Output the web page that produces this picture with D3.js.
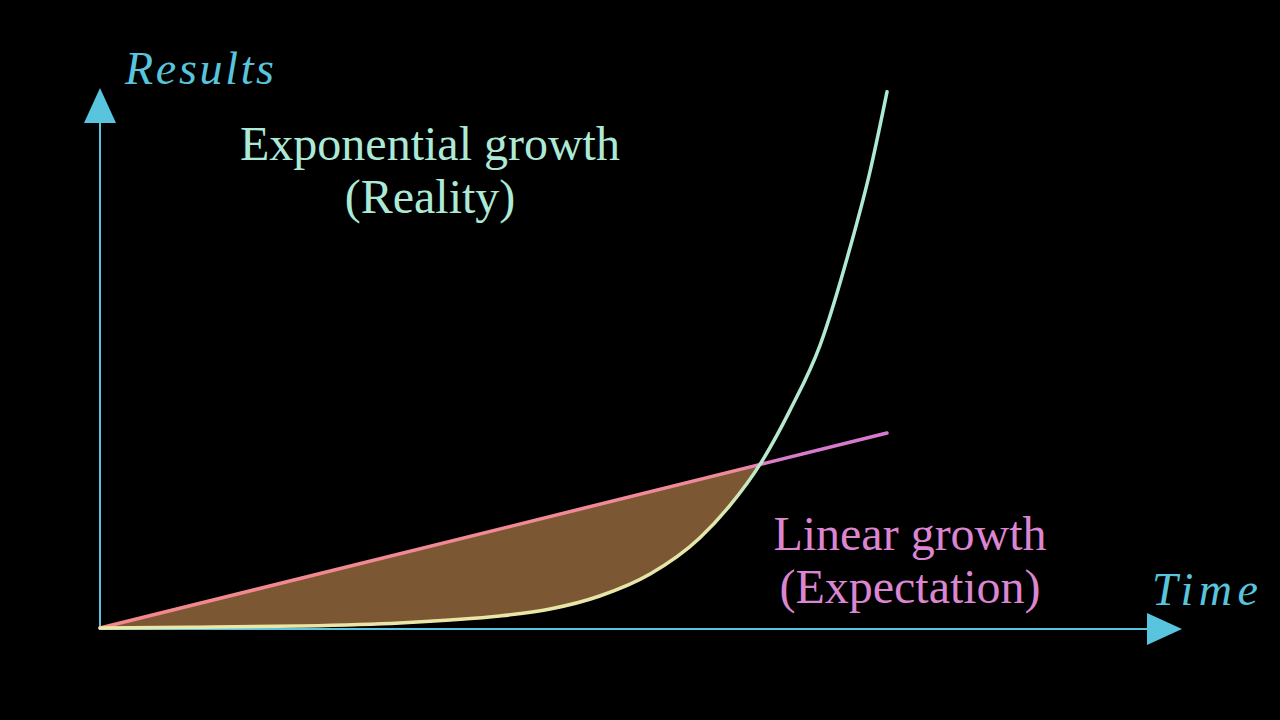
<!DOCTYPE html>
<html>
<head>
<meta charset="utf-8">
<title>Exponential vs linear growth</title>
<script src="https://d3js.org/d3.v7.min.js"></script>
<style>
  html, body { margin: 0; padding: 0; background: #000; }
  svg { display: block; }
  .lbl { font-family: "Liberation Serif", "DejaVu Serif", serif; }
</style>
</head>
<body>
<svg id="chart" width="1280" height="720"></svg>
<script>
// values (time on x, results on y)
var expTime    = [0, 1.27, 2.54, 3.81, 4.45, 5.08, 5.72, 6.35, 6.99, 7.62, 8.01, 8.39, 8.77, 9.15, 9.53, 9.78, 10];
var expResults = [0, 0.015, 0.037, 0.093, 0.148, 0.222, 0.352, 0.593, 1.0, 1.667, 2.28, 3.04, 4.04, 5.24, 7.04, 8.43, 9.93];
var linTime    = [0, 10];
var linResults = [0, 3.61];
var crossTime  = 8.39;

var axisLabels = ["Results", "Time"];
var expLabel = ["Exponential growth", "(Reality)"];
var linLabel = ["Linear growth", "(Expectation)"];

var svg = d3.select("#chart");

var x = d3.scaleLinear().domain([0, 10]).range([100, 887]);
var y = d3.scaleLinear().domain([0, 10]).range([628, 88]);

var expPts = expTime.map(function(t, i) { return [t, expResults[i]]; });
var linAt = function(t) { return d3.scaleLinear().domain(linTime).range(linResults)(t); };

// gradients along the curves
var defs = svg.append("defs");
function grad(id, stops) {
  var g = defs.append("linearGradient").attr("id", id)
    .attr("gradientUnits", "userSpaceOnUse")
    .attr("x1", x(0)).attr("y1", 0).attr("x2", x(10)).attr("y2", 0);
  stops.forEach(function(s) {
    g.append("stop").attr("offset", s[0]).attr("stop-color", s[1]);
  });
}
var cx = crossTime / 10;
grad("expGrad", [[0, "#efe6a6"], [cx - 0.06, "#e6e6a8"], [cx, "#b8e8cc"], [1, "#acead7"]]);
grad("linGrad", [[0, "#f3878c"], [cx - 0.03, "#f08a9c"], [cx + 0.02, "#d97ccb"], [1, "#d878d0"]]);

// shaded gap between expectation and reality
var gapPts = expPts.filter(function(p) { return p[0] <= crossTime; });
var area = d3.area()
  .x(function(d) { return x(d[0]); })
  .y0(function(d) { return y(d[1]); })
  .y1(function(d) { return y(linAt(d[0])); })
  .curve(d3.curveMonotoneX);
svg.append("path")
  .attr("d", area(gapPts))
  .attr("fill", "#7b5833");

// axes
var axisColor = "#58c4dd";
svg.append("line")
  .attr("x1", x(0)).attr("y1", 98).attr("x2", x(0)).attr("y2", y(0) + 1)
  .attr("stroke", axisColor).attr("stroke-width", 2);
svg.append("line")
  .attr("x1", x(0) - 1).attr("y1", y(0) + 1).attr("x2", 1160).attr("y2", y(0) + 1)
  .attr("stroke", axisColor).attr("stroke-width", 2);
svg.append("path")
  .attr("d", "M" + (x(0) - 16) + ",123 L" + x(0) + ",88 L" + (x(0) + 16) + ",123 Z")
  .attr("fill", axisColor);
svg.append("path")
  .attr("d", "M1147," + (y(0) - 15) + " L1182," + (y(0) + 1) + " L1147," + (y(0) + 17) + " Z")
  .attr("fill", axisColor);

// curves
var line = d3.line()
  .x(function(d) { return x(d[0]); })
  .y(function(d) { return y(d[1]); });

svg.append("path")
  .attr("d", line(linTime.map(function(t, i) { return [t, linResults[i]]; })))
  .attr("fill", "none")
  .attr("stroke", "url(#linGrad)")
  .attr("stroke-width", 3.5)
  .attr("stroke-linecap", "round");

svg.append("path")
  .attr("d", line.curve(d3.curveMonotoneX)(expPts))
  .attr("fill", "none")
  .attr("stroke", "url(#expGrad)")
  .attr("stroke-width", 3.5)
  .attr("stroke-linecap", "round");

// labels
svg.append("text").attr("class", "lbl")
  .attr("x", 125).attr("y", 84)
  .attr("font-size", 46).attr("font-style", "italic")
  .attr("textLength", 149).attr("lengthAdjust", "spacing")
  .attr("fill", axisColor)
  .text(axisLabels[0]);
svg.append("text").attr("class", "lbl")
  .attr("x", 1152).attr("y", 605)
  .attr("font-size", 46).attr("font-style", "italic")
  .attr("textLength", 106).attr("lengthAdjust", "spacing")
  .attr("fill", axisColor)
  .text(axisLabels[1]);

svg.selectAll("text.exp").data(expLabel).enter().append("text")
  .attr("class", "lbl exp")
  .attr("x", 430).attr("y", function(d, i) { return 160 + i * 53; })
  .attr("text-anchor", "middle")
  .attr("font-size", 48)
  .attr("fill", "#acead7")
  .text(function(d) { return d; });

svg.selectAll("text.lin").data(linLabel).enter().append("text")
  .attr("class", "lbl lin")
  .attr("x", 910).attr("y", function(d, i) { return 550 + i * 53; })
  .attr("text-anchor", "middle")
  .attr("font-size", 48)
  .attr("fill", "#dc85d0")
  .text(function(d) { return d; });
</script>
</body>
</html>
